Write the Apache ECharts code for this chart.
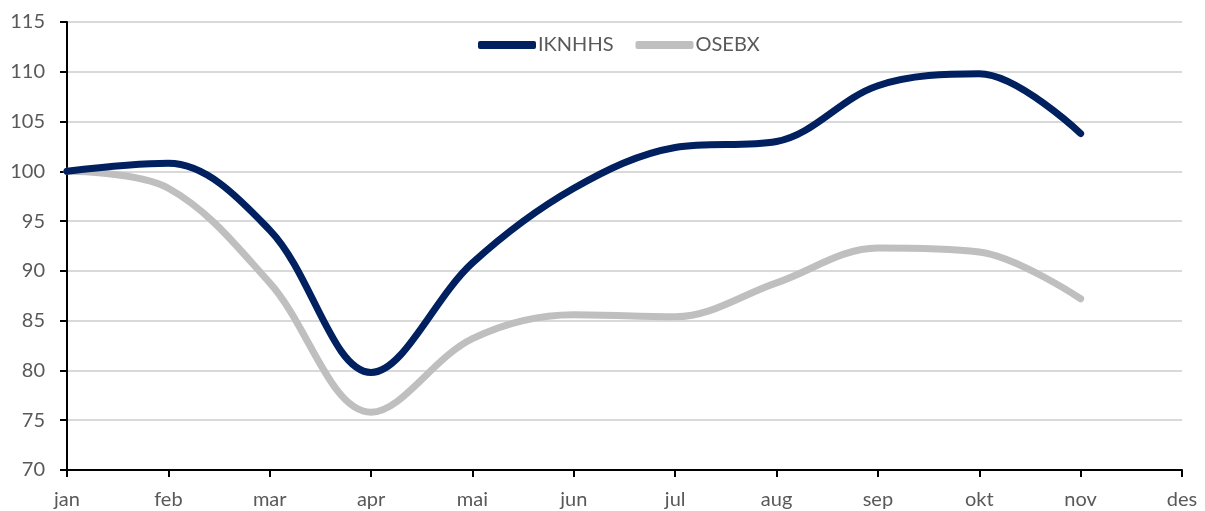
<!DOCTYPE html>
<html>
<head>
<meta charset="utf-8">
<script src="https://cdn.jsdelivr.net/npm/echarts@6/dist/echarts.min.js"></script>
<style>
  html, body { margin: 0; padding: 0; background: #fff; }
  #chart { width: 1205px; height: 511px; }
</style>
</head>
<body>
<div id="chart"></div>
<script>
const months = ["jan", "feb", "mar", "apr", "mai", "jun", "jul", "aug", "sep", "okt", "nov", "des"];
const iknhhs = [100, 100.8, 94.1, 79.8, 90.8, 98.3, 102.4, 103, 108.6, 109.8, 103.8];
const osebx = [100, 98.3, 88.8, 75.8, 83.2, 85.6, 85.4, 88.8, 92.3, 91.9, 87.2];

const textColor = "#595959";
const font = "Lato, 'Open Sans', sans-serif";

let chart = echarts.init(document.getElementById("chart"));
let option = {
  animation: false,
  grid: { left: 67, right: 23, top: 22, bottom: 41 },
  legend: {
    top: 30,
    left: 473,
    icon: "roundRect",
    itemWidth: 58,
    itemHeight: 8,
    itemGap: 22,
    textStyle: { color: textColor, fontSize: 20, fontFamily: font, padding: [0, 0, 0, -3] },
    data: ["IKNHHS", "OSEBX"]
  },
  xAxis: {
    type: "category",
    boundaryGap: false,
    data: months,
    axisLine: { lineStyle: { color: "#000", width: 2 } },
    axisTick: { length: 7, lineStyle: { color: "#000", width: 2 } },
    axisLabel: { color: textColor, fontSize: 20, fontFamily: font, margin: 20 },
    splitLine: { show: false }
  },
  yAxis: {
    type: "value",
    min: 70,
    max: 115,
    interval: 5,
    axisLine: { show: true, lineStyle: { color: "#000", width: 2 } },
    axisTick: { show: true, length: 7, lineStyle: { color: "#000", width: 2 } },
    axisLabel: { color: textColor, fontSize: 20, fontFamily: font, margin: 22 },
    splitLine: { lineStyle: { color: "#d9d9d9", width: 2 } }
  },
  series: [
    {
      name: "IKNHHS",
      type: "line",
      data: iknhhs,
      smooth: 0.35,
      symbol: "none",
      lineStyle: { color: "#002060", width: 7, cap: "round" },
      itemStyle: { color: "#002060" },
      z: 3
    },
    {
      name: "OSEBX",
      type: "line",
      data: osebx,
      smooth: 0.35,
      symbol: "none",
      lineStyle: { color: "#bfbfbf", width: 7, cap: "round" },
      itemStyle: { color: "#bfbfbf" },
      z: 2
    }
  ]
};
chart.setOption(option);
</script>
</body>
</html>
